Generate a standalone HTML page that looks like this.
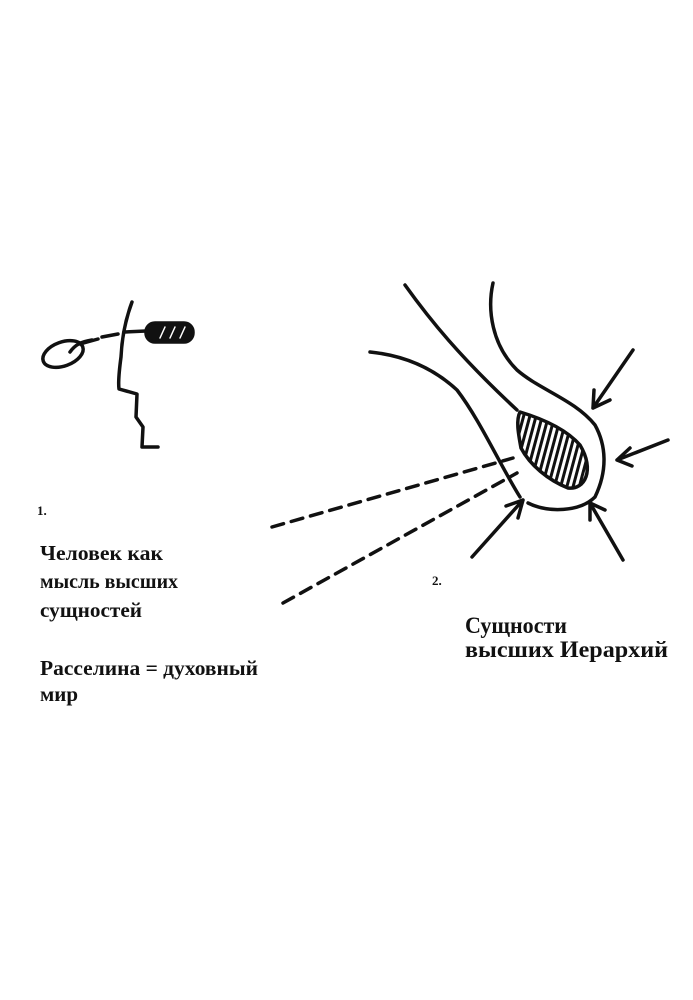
<!DOCTYPE html>
<html><head><meta charset="utf-8"><style>
html,body{margin:0;padding:0;background:#fff;}
svg{display:block}
text{font-family:"Liberation Serif","DejaVu Serif",serif;font-weight:bold;fill:#111;}
</style></head><body>
<svg width="693" height="1000" viewBox="0 0 693 1000" xmlns="http://www.w3.org/2000/svg">
<defs>
<pattern id="h" width="6" height="6" patternUnits="userSpaceOnUse" patternTransform="rotate(15)">
<rect width="6" height="6" fill="#fff"/><rect width="3" height="6" fill="#111"/></pattern>
</defs>
<g fill="none" stroke="#111" stroke-width="3.5" stroke-linecap="round" stroke-linejoin="round">
<path d="M132,302 C126,318 122,335 121,357 C119,372 118,382 119,389 L137,394 L136,417 L143,427 L142,447 L158,447"/>
<ellipse cx="63" cy="354" rx="21" ry="12" transform="rotate(-20 63 354)"/>
<path d="M70,352 C75,345 80,342 92,340" />
<path d="M80,344 L98,339 M102,337 L118,334 M124,332 L146,331"/>
<rect x="146" y="323" width="47" height="19" rx="9" fill="#111"/>
<path d="M160,338 L165,327 M170,338 L175,327 M180,338 L185,327" stroke="#fff" stroke-width="1.5"/>
<path d="M405,285 C430,320 460,357 517,410"/>
<path d="M493,283 C487,310 492,345 517,370 C540,390 575,400 595,425 C606,445 608,470 595,497 C580,512 548,513 528,503"/>
<path d="M370,352 C400,355 430,365 457,390 C480,420 500,465 520,497"/>
<path d="M520,412 C540,418 565,428 580,445 C595,470 585,490 568,488 C548,480 530,465 521,448 C518,432 516,420 520,412 Z" fill="url(#h)"/>
<path d="M272,527 L513,458" stroke-dasharray="12,8"/>
<path d="M283,603 L517,473" stroke-dasharray="12,8"/>
<path d="M633,350 L593,408 M593,408 L594,390 M593,408 L610,400"/>
<path d="M668,440 L617,460 M617,460 L630,448 M617,460 L632,466"/>
<path d="M472,557 L523,500 M523,500 L506,506 M523,500 L518,518"/>
<path d="M623,560 L590,503 M590,503 L590,520 M590,503 L605,510"/>
</g>
<text x="37" y="515" font-size="13">1.</text>
<text x="40" y="560" font-size="21" textLength="123" lengthAdjust="spacingAndGlyphs">Человек как</text>
<text x="40" y="588" font-size="21" textLength="138" lengthAdjust="spacingAndGlyphs">мысль высших</text>
<text x="40" y="617" font-size="21" textLength="102" lengthAdjust="spacingAndGlyphs">сущностей</text>
<text x="40" y="675" font-size="21" textLength="218" lengthAdjust="spacingAndGlyphs">Расселина = духовный</text>
<text x="40" y="701" font-size="21">мир</text>
<text x="432" y="585" font-size="13">2.</text>
<text x="465" y="633" font-size="23" textLength="102" lengthAdjust="spacingAndGlyphs">Сущности</text>
<text x="465" y="657" font-size="23" textLength="203" lengthAdjust="spacingAndGlyphs">высших Иерархий</text>
</svg>
</body></html>
